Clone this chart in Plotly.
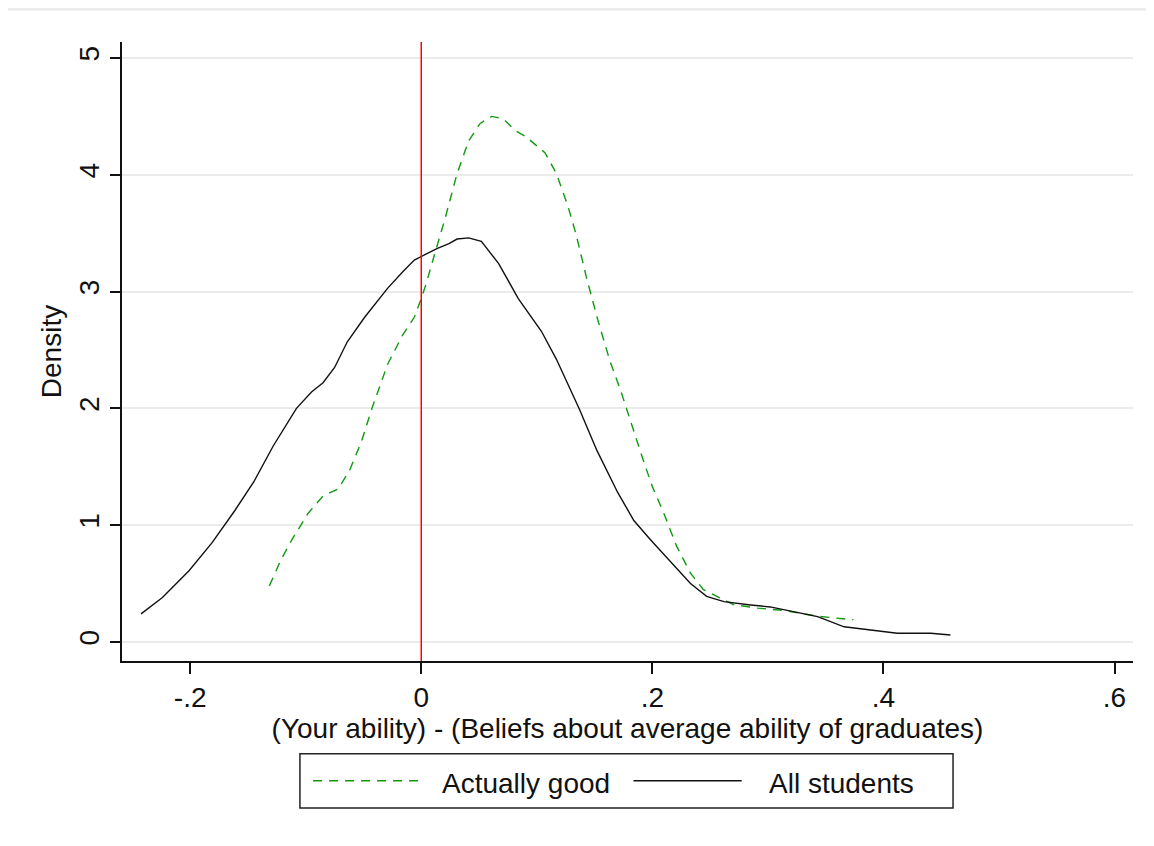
import plotly.graph_objects as go

# All students density
all_x = [-0.2425, -0.224, -0.201, -0.181, -0.161, -0.145, -0.128, -0.108, -0.095, -0.085,
         -0.075, -0.064, -0.049, -0.029, -0.016, -0.006, 0.004, 0.014, 0.024, 0.031,
         0.041, 0.052, 0.067, 0.084, 0.104, 0.117, 0.137, 0.152, 0.170, 0.184, 0.198,
         0.216, 0.233, 0.247, 0.262, 0.285, 0.302, 0.322, 0.343, 0.366, 0.383, 0.400,
         0.412, 0.441, 0.458]
all_y = [0.24, 0.38, 0.61, 0.85, 1.13, 1.37, 1.68, 2.00, 2.14, 2.22,
         2.35, 2.57, 2.78, 3.03, 3.17, 3.27, 3.32, 3.37, 3.41, 3.45,
         3.46, 3.43, 3.24, 2.94, 2.66, 2.42, 1.99, 1.64, 1.28, 1.04, 0.88,
         0.68, 0.50, 0.39, 0.345, 0.317, 0.30, 0.26, 0.217, 0.13, 0.11, 0.09,
         0.075, 0.075, 0.06]

# Actually good density
good_x = [-0.1315, -0.1216, -0.1117, -0.098, -0.085, -0.072, -0.062, -0.052, -0.042, -0.029,
          -0.016, -0.006, 0.0, 0.004, 0.011, 0.021, 0.031, 0.041, 0.051, 0.061,
          0.071, 0.081, 0.090, 0.100, 0.107, 0.117, 0.127, 0.134, 0.143, 0.153,
          0.163, 0.173, 0.183, 0.192, 0.200, 0.210, 0.221, 0.233, 0.244, 0.256,
          0.270, 0.291, 0.314, 0.343, 0.360, 0.374]
good_y = [0.48, 0.70, 0.88, 1.10, 1.25, 1.31, 1.47, 1.71, 2.02, 2.38,
          2.63, 2.78, 2.94, 3.06, 3.30, 3.64, 4.01, 4.29, 4.44, 4.50,
          4.48, 4.38, 4.33, 4.25, 4.19, 4.01, 3.73, 3.49, 3.12, 2.75,
          2.415, 2.14, 1.83, 1.56, 1.33, 1.10, 0.82, 0.59, 0.45, 0.39,
          0.32, 0.29, 0.27, 0.22, 0.20, 0.19]

series_names = ["Actually good", "All students"]
x_ticks = [-0.2, 0, 0.2, 0.4, 0.6]
x_tick_labels = ["-.2", "0", ".2", ".4", ".6"]
y_ticks = [0, 1, 2, 3, 4, 5]
x_title = "(Your ability) - (Beliefs about average ability of graduates)"
y_title = "Density"

FONT = "Liberation Sans, Arial, sans-serif"
FS = 28
GREEN = "#0f9a0f"

fig = go.Figure()
fig.add_trace(go.Scatter(x=good_x, y=good_y, mode="lines", name=series_names[0],
                         line=dict(color=GREEN, width=1.4, dash="9px,7px"),
                         showlegend=False))
fig.add_trace(go.Scatter(x=all_x, y=all_y, mode="lines", name=series_names[1],
                         line=dict(color="#111111", width=1.4),
                         showlegend=False))

# vertical reference line at 0
fig.add_shape(type="line", xref="x", yref="paper", x0=0, x1=0, y0=0, y1=1,
              line=dict(color="#ff0000", width=1.5), layer="above")

# faint top border line
fig.add_shape(type="line", xref="paper", yref="paper", x0=-0.113, x1=1.03, y0=1.053, y1=1.053,
              line=dict(color="#ececec", width=3))

# manual legend
fig.add_shape(type="rect", xref="paper", yref="paper", x0=0.176, x1=0.822, y0=-0.2375, y1=-0.150,
              line=dict(color="#222222", width=1.5), fillcolor="white")
fig.add_shape(type="line", xref="paper", yref="paper", x0=0.189, x1=0.294, y0=-0.1935, y1=-0.1935,
              line=dict(color=GREEN, width=1.4, dash="9px,7px"))
fig.add_shape(type="line", xref="paper", yref="paper", x0=0.506, x1=0.613, y0=-0.1935, y1=-0.1935,
              line=dict(color="#111111", width=1.4))
fig.add_annotation(xref="paper", yref="paper", x=0.3145, y=-0.1985, text=series_names[0],
                   showarrow=False, xanchor="left", yanchor="middle",
                   font=dict(family=FONT, size=FS, color="#111111"))
fig.add_annotation(xref="paper", yref="paper", x=0.638, y=-0.1985, text=series_names[1],
                   showarrow=False, xanchor="left", yanchor="middle",
                   font=dict(family=FONT, size=FS, color="#111111"))

fig.update_layout(
    width=1146, height=838,
    margin=dict(l=114, r=21, t=34, b=185),
    paper_bgcolor="white", plot_bgcolor="white",
    font=dict(family=FONT, size=FS, color="#111111"),
    showlegend=False,
)
fig.update_xaxes(range=[-0.259, 0.616], tickvals=x_ticks, ticktext=x_tick_labels,
                 showgrid=False, zeroline=False, showline=True, linecolor="#111111", linewidth=1.5,
                 ticks="outside", ticklen=11, tickwidth=1.5, tickcolor="#111111",
                 tickfont=dict(size=FS),
                 title=dict(text=x_title, font=dict(size=FS), standoff=0))
fig.update_yaxes(range=[-0.163, 5.137], tickvals=y_ticks, tickangle=-90,
                 showgrid=True, gridcolor="#ebebeb", gridwidth=2, zeroline=False,
                 showline=True, linecolor="#111111", linewidth=1.5,
                 ticks="outside", ticklen=10, tickwidth=1.5, tickcolor="#111111",
                 tickfont=dict(size=FS),
                 title=dict(text=y_title, font=dict(size=FS), standoff=4))

fig.write_html("out.html")
